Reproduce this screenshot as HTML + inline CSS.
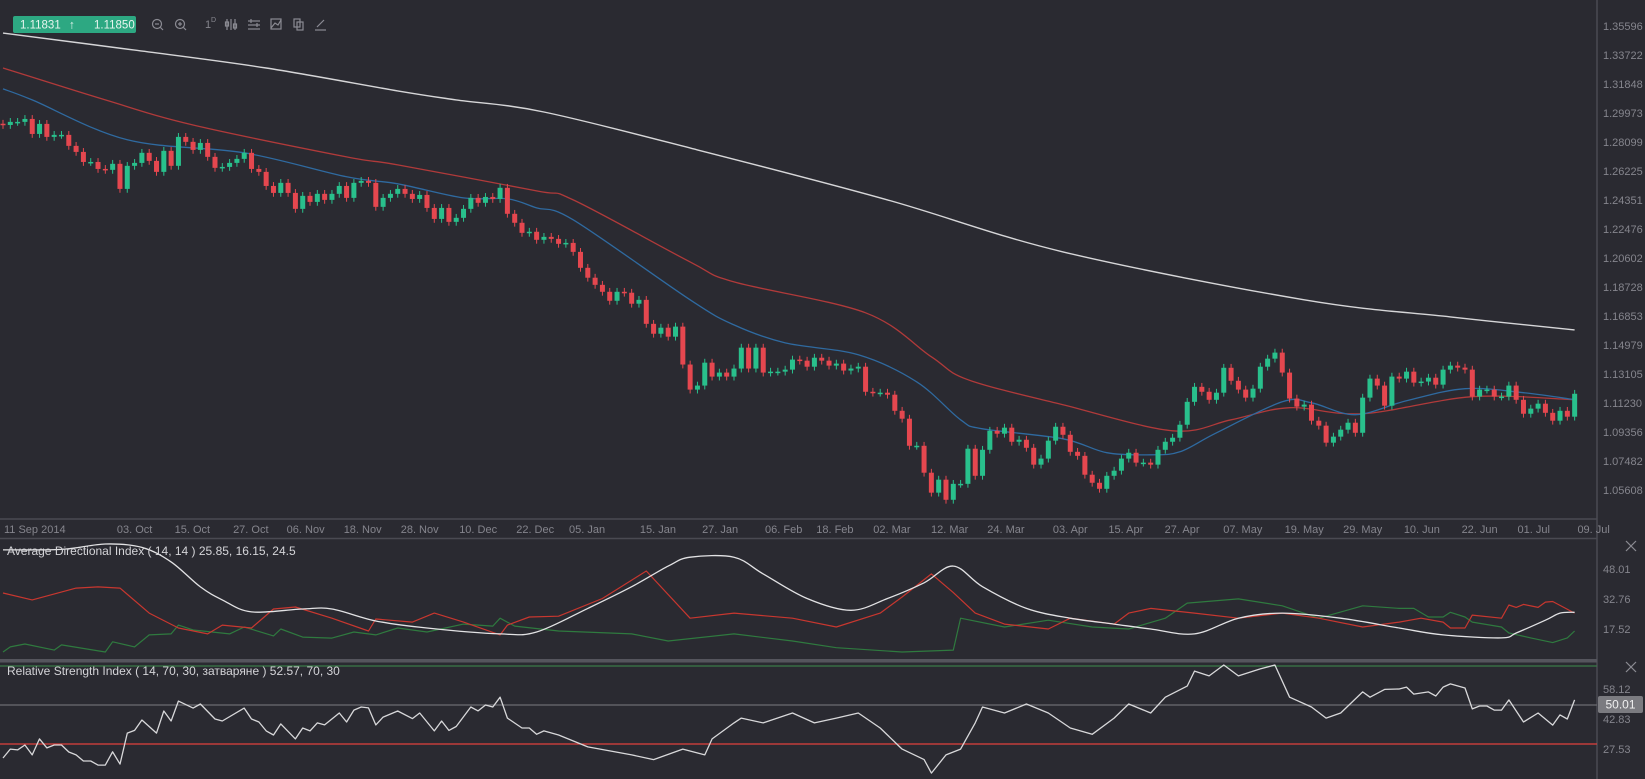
<!DOCTYPE html>
<html><head><meta charset="utf-8">
<style>
html,body{margin:0;padding:0;background:#2a2a31;}
body{width:1645px;height:779px;overflow:hidden;position:relative;font-family:"Liberation Sans",sans-serif;}
svg{position:absolute;left:0;top:0;}
.ax{font-family:"Liberation Sans",sans-serif;font-size:11px;fill:#85858d;}
.lbl{font-family:"Liberation Sans","Noto Sans CJK JP",sans-serif;font-size:12px;fill:#d4d4d8;}
</style></head>
<body>
<svg id="chart" width="1645" height="779" viewBox="0 0 1645 779">
  <rect x="0" y="0" width="1645" height="779" fill="#2a2a31"/>
  <defs>
    <clipPath id="cMain"><rect x="0" y="0" width="1597" height="519"/></clipPath>
    <clipPath id="cAdx"><rect x="0" y="539" width="1597" height="120"/></clipPath>
    <clipPath id="cRsi"><rect x="0" y="663" width="1597" height="116"/></clipPath>
  </defs>
  <line x1="1597" y1="0" x2="1597" y2="779" stroke="#4a4a52" stroke-width="1.5"/>
  <line x1="0" y1="519" x2="1597" y2="519" stroke="#4a4a52" stroke-width="1.5"/>
  <line x1="0" y1="538.5" x2="1597" y2="538.5" stroke="#4a4a52" stroke-width="1.5"/>
  <rect x="0" y="659" width="1597" height="3.5" fill="#55555d"/>
  <g id="gMain" clip-path="url(#cMain)"></g>
  <g id="gAdx" clip-path="url(#cAdx)"></g>
  <g id="gRsi" clip-path="url(#cRsi)"></g>
  <g id="gAxes"></g>

  <rect x="13" y="16" width="123" height="17" rx="2" fill="#2da882"/>
  <text x="20" y="28.5" font-size="11.5" fill="#e8f5ef" font-family="Liberation Sans, sans-serif">1.11831</text>
  <text x="69" y="28.5" font-size="12" fill="#e8f5ef" font-family="Liberation Sans, sans-serif">↑</text>
  <text x="94" y="28.5" font-size="11.5" fill="#e8f5ef" font-family="Liberation Sans, sans-serif">1.11850</text>

  <g stroke="#8b8b93" stroke-width="1.2" fill="none">
    <g><circle cx="157" cy="24" r="4.5"/><line x1="160.5" y1="27.5" x2="163" y2="30"/><line x1="155" y1="24" x2="159" y2="24"/></g>
    <g><circle cx="180" cy="24" r="4.5"/><line x1="183.5" y1="27.5" x2="186" y2="30"/><line x1="178" y1="24" x2="182" y2="24"/><line x1="180" y1="22" x2="180" y2="26"/></g>
    <g><line x1="227" y1="19" x2="227" y2="30"/><line x1="231" y1="19" x2="231" y2="30"/><line x1="235" y1="19" x2="235" y2="30"/><rect x="225.5" y="22" width="3" height="4"/><rect x="233.5" y="24" width="3" height="4"/></g>
    <g><line x1="248" y1="21" x2="260" y2="21"/><line x1="248" y1="25" x2="260" y2="25"/><line x1="248" y1="29" x2="260" y2="29"/><line x1="251" y1="19" x2="251" y2="23"/><line x1="257" y1="23" x2="257" y2="27"/></g>
    <g><rect x="271" y="19" width="10" height="10"/><polyline points="271,28 275,23 278,25 281,20"/></g>
    <g><rect x="294" y="19" width="6" height="8"/><rect x="297" y="22" width="6" height="8"/></g>
    <g><line x1="317" y1="27" x2="324" y2="20"/><line x1="315" y1="30" x2="326" y2="30"/></g>
  </g>
  <text x="205" y="28" class="ax" fill="#8b8b93">1</text>
  <text x="211" y="22" font-size="7" fill="#8b8b93" font-family="Liberation Sans, sans-serif">D</text>

  <text x="7" y="555" class="lbl">Average Directional Index ( 14, 14 ) 25.85, 16.15, 24.5</text>
  <text x="7" y="675" class="lbl">Relative Strength Index ( 14, 70, 30, затваряне ) 52.57, 70, 30</text>
  <g stroke="#8b8b93" stroke-width="1.2"><line x1="1626" y1="541" x2="1636" y2="551"/><line x1="1636" y1="541" x2="1626" y2="551"/></g>
  <g stroke="#8b8b93" stroke-width="1.2"><line x1="1626" y1="662" x2="1636" y2="672"/><line x1="1636" y1="662" x2="1626" y2="672"/></g>
  <rect x="1598" y="696" width="45" height="17" rx="2" fill="#7b7b80"/>
  <text x="1620.5" y="708.5" text-anchor="middle" font-size="12" fill="#f0f0f0" font-family="Liberation Sans, sans-serif">50.01</text>
</svg>
<script>
const closes = [
1.2920,1.2940,1.2940,1.2959,1.2862,1.2927,1.2843,1.2856,1.2856,1.2785,
1.2746,1.2681,1.2681,1.2636,1.2630,1.2669,1.2507,1.2656,1.2675,1.2740,
1.2688,1.2617,1.2753,1.2656,1.2843,1.2811,1.2759,1.2804,1.2714,1.2643,
1.2649,1.2675,1.2701,1.2740,1.2636,1.2617,1.2526,1.2481,1.2546,1.2481,
1.2378,1.2462,1.2423,1.2475,1.2436,1.2475,1.2526,1.2449,1.2546,1.2559,
1.2546,1.2391,1.2449,1.2475,1.2507,1.2475,1.2442,1.2468,1.2384,1.2313,
1.2384,1.2294,1.2320,1.2378,1.2449,1.2417,1.2455,1.2442,1.2514,1.2346,
1.2288,1.2223,1.2230,1.2178,1.2197,1.2184,1.2152,1.2158,1.2100,1.1997,
1.1933,1.1887,1.1842,1.1784,1.1842,1.1836,1.1765,1.1790,1.1635,1.1571,
1.1610,1.1552,1.1617,1.1372,1.1210,1.1236,1.1384,1.1294,1.1320,1.1294,
1.1346,1.1481,1.1346,1.1481,1.1320,1.1326,1.1326,1.1339,1.1404,1.1397,
1.1358,1.1416,1.1397,1.1365,1.1378,1.1333,1.1346,1.1358,1.1196,1.1190,
1.1190,1.1177,1.1073,1.1022,1.0847,1.0847,1.0673,1.0544,1.0628,1.0498,
1.0601,1.0601,1.0828,1.0653,1.0821,1.0944,1.0925,1.0964,1.0873,1.0886,
1.0834,1.0725,1.0764,1.0880,1.0970,1.0918,1.0808,1.0782,1.0660,1.0608,
1.0569,1.0653,1.0686,1.0764,1.0802,1.0738,1.0738,1.0725,1.0821,1.0873,
1.0899,1.0983,1.1131,1.1228,1.1196,1.1144,1.1190,1.1351,1.1267,1.1210,
1.1158,1.1216,1.1358,1.1410,1.1449,1.1320,1.1152,1.1100,1.1113,1.1009,
1.0977,1.0867,1.0906,1.0951,1.0996,1.0931,1.1158,1.1281,1.1236,1.1106,
1.1294,1.1281,1.1326,1.1255,1.1262,1.1287,1.1242,1.1339,1.1365,1.1352,
1.1339,1.1165,1.1210,1.1210,1.1165,1.1165,1.1236,1.1144,1.1054,1.1087,
1.1119,1.1060,1.1009,1.1073,1.1035,1.1183];
const firstOpen = 1.2928;

const ma200Idx = [0,18,36,54,62,74,95,121,145,178,198,215];
const ma200Val = [1.3514,1.3404,1.3288,1.3140,1.3082,1.3004,1.2759,1.2436,1.2100,1.1790,1.1680,1.1596];
const ma50Idx = [0,14,26,47,54,73,78,94,100,118,127,132,145,160,168,176,186,201,215];
const ma50Val = [1.3288,1.3082,1.2920,1.2714,1.2662,1.2494,1.2436,1.2035,1.1906,1.1706,1.1422,1.1274,1.1112,1.0944,1.1015,1.1093,1.1054,1.1164,1.1145];
const ma20Idx = [0,4,17,33,47,54,63,69,73,78,94,100,107,117,125,131,134,145,151,157,161,166,175,179,185,192,200,208,215];
const ma20Val = [1.3153,1.3082,1.2824,1.2740,1.2585,1.2540,1.2449,1.2443,1.2384,1.2307,1.1790,1.1628,1.1512,1.1435,1.1260,1.1015,1.0957,1.0892,1.0802,1.0789,1.0808,1.0931,1.1131,1.1125,1.1048,1.1138,1.1216,1.1190,1.1145];

const priceTicks = [1.35596,1.33722,1.31848,1.29973,1.28099,1.26225,1.24351,1.22476,1.20602,1.18728,1.16853,1.14979,1.13105,1.11230,1.09356,1.07482,1.05608];
const dateLabels = ["11 Sep 2014","03. Oct","15. Oct","27. Oct","06. Nov","18. Nov","28. Nov","10. Dec","22. Dec","05. Jan","15. Jan","27. Jan","06. Feb","18. Feb","02. Mar","12. Mar","24. Mar","03. Apr","15. Apr","27. Apr","07. May","19. May","29. May","10. Jun","22. Jun","01. Jul","09. Jul"];
const dateIdx = [0,18,25.9,33.9,41.4,49.2,57,65,72.8,79.9,89.6,98.1,106.8,113.8,121.6,129.5,137.2,146,153.6,161.3,169.6,178,186,194.1,202,209.4,217.6];

const adxIdx = [0,8,14,19,23,27,30,34,41,45,51,58,68,73,80,86,91,94,100,104,110,116,121,126,130,134,140,146,152,157,163,169,175,183,191,197,205,207,211,213,215];
const adxVal = [57.7,58,60.7,59,51.6,38.9,32.3,26.2,27.7,27.7,21.6,18,15,16,28,39,49.5,54,54,45.5,33,27,33,41,49.5,39,28,23,20,17.5,15,23,25.6,23,18,14.5,13,15.5,22,25.6,26];
const pdiIdx = [0,4,10,13,16,20,24,28,30,34,37,40,45,50,51,56,59,63,68,69,72,76,82,88,94,100,108,114,120,123,127,130,133,137,143,146,152,154,157,163,169,175,180,186,191,194,197,198,200,201,205,206,207,208,210,211,212,215];
const pdiVal = [35.8,32.3,38.3,38.9,38.3,25.6,18,15,19.5,18,27.7,28.7,23,16.5,22.6,21,25.6,21,14.5,19.5,23.6,24,33,47,23,25.6,23,18.5,25.6,33.8,45.5,36,25.6,20,17.5,23,20,25.6,28,25.6,23,25.6,23,18.5,21,23,21,18,18,24.6,23,29.7,28.5,30,28.5,31.2,31.5,25.6];
const mdiIdx = [0,1,3,7,8,14,15,18,20,23,24,26,31,33,37,38,41,45,48,51,54,58,63,67,68,70,76,86,91,100,108,114,123,130,131,137,143,149,154,159,162,169,175,180,186,191,193,195,197,198,200,201,205,206,209,212,214,215];
const mdiVal = [5.8,8.4,9.9,6.8,9.4,5.8,11,8.4,14.5,15,19.5,17,15,18.5,14,17.5,13.4,12.9,16,14.5,18,16,20,19,23,19,16.5,15,11.4,15,11.4,8,5.8,6.8,23,18.5,22,18.5,17.5,23,30.7,32.8,29.3,23,29.3,28,28,23.6,23.6,26,23.6,21,18.5,15.5,13,10.6,13,16.5];

const rsiIdx = [0,1,2,3,4,5,6,7,8,9,10,11,12,13,14,15,16,17,18,19,21,22,23,24,26,27,29,30,33,34,35,36,37,38,40,41,42,43,44,46,47,48,49,50,51,52,54,56,57,59,60,61,62,64,65,66,67,68,69,71,72,73,74,76,80,86,89,93,96,97,100,101,104,108,111,114,117,120,123,126,127,129,131,133,134,137,140,143,146,149,152,154,157,159,162,163,165,167,169,172,174,176,179,181,183,186,187,189,191,192,193,195,196,197,198,200,201,202,203,204,205,206,208,210,212,213,214,215];
const rsiVal = [22.8,27.4,27,29.5,24.4,32.6,28,29.5,29.5,25.9,24.4,21.3,21.3,19.2,19.2,26,19.7,35.6,37,42.3,35.6,46.9,41.8,52,48.4,50.5,42.8,41.8,48.4,42.8,41.3,36.7,34.6,40.3,32.6,38.2,36.7,40.8,39.8,45.9,41.3,47.4,49,48.5,39.8,43.8,46.9,43,45.9,36.7,41.8,37,39,49,47,50,49,54,43.3,38.2,38.2,35,36.7,34.6,28.5,24.4,22,27.4,24.4,32.6,40.8,43.3,40.8,45.9,40.8,43.3,45.9,38.2,27.4,22,15.1,24.4,27.4,40.8,49,45.9,50.5,45.9,38.2,35,43.3,50.5,45.9,54,59.7,67.4,64.9,70.5,64.9,68.5,70.5,54,49,43.3,45.9,56.7,54,58,58.2,59.2,55.6,56.7,54.6,59.2,60.8,58.7,48,49.5,49.5,47.4,47.4,52.6,41.3,45.9,39.7,44.9,42.8,52.6];

const adxTicks = [48.01,32.76,17.52];
const rsiTicks = [58.12,42.83,27.53];

const NS = "http://www.w3.org/2000/svg";
function xi(i){ return 3 + i*7.31; }
function py(p){ return 26 + (1.35596 - p)*1547.5; }
function ay(v){ return 599 - (v - 32.76)*1.967; }
function ry(v){ return 705 - (v - 50)*1.95; }
function mk(tag, attrs, parent){
  const el = document.createElementNS(NS, tag);
  for (const k in attrs) el.setAttribute(k, attrs[k]);
  parent.appendChild(el);
  return el;
}
const gMain = document.getElementById('gMain');
const gAdx = document.getElementById('gAdx');
const gRsi = document.getElementById('gRsi');
const gAxes = document.getElementById('gAxes');

function line(idx, vals, yf, color, width, parent, name){
  const pts = idx.map((d,k)=> xi(d).toFixed(1)+','+yf(vals[k]).toFixed(1)).join(' ');
  const pl = mk('polyline', {points:pts, fill:'none', stroke:color, 'stroke-width':width, 'stroke-linejoin':'round'}, parent);
  
  
}
// smooth (Catmull-Rom) rendering of a series
function smooth(idx, vals, yf, color, width, parent, name){
  const P = idx.map((d,k)=>[xi(d), yf(vals[k])]);
  let d = 'M'+P[0][0].toFixed(1)+','+P[0][1].toFixed(1);
  for (let k=0;k<P.length-1;k++){
    const p0=P[Math.max(0,k-1)], p1=P[k], p2=P[k+1], p3=P[Math.min(P.length-1,k+2)];
    const c1=[p1[0]+(p2[0]-p0[0])/6, p1[1]+(p2[1]-p0[1])/6];
    const c2=[p2[0]-(p3[0]-p1[0])/6, p2[1]-(p3[1]-p1[1])/6];
    d += ' C'+c1[0].toFixed(1)+','+c1[1].toFixed(1)+' '+c2[0].toFixed(1)+','+c2[1].toFixed(1)+' '+p2[0].toFixed(1)+','+p2[1].toFixed(1);
  }
  const pa = mk('path', {d:d, fill:'none', stroke:color, 'stroke-width':width}, parent);
  
  
}

smooth(ma200Idx, ma200Val, py, '#d6d6d8', 1.4, gMain, 'ma-200-line');
smooth(ma50Idx, ma50Val, py, '#b03a3a', 1.3, gMain, 'ma-50-line');
smooth(ma20Idx, ma20Val, py, '#2f6aa0', 1.3, gMain, 'ma-20-line');

const WICK = 0.0025;
for (let i=0;i<closes.length;i++){
  const o = i===0 ? firstOpen : closes[i-1];
  const c = closes[i];
  const up = c >= o;
  const col = up ? '#29c08c' : '#e5474f';
  const x = xi(i);
  const g = mk('g', {}, gMain);
  
  
  const hi = Math.max(o,c) + WICK, lo = Math.min(o,c) - WICK;
  const w = mk('line', {x1:x, x2:x, y1:py(hi), y2:py(lo), stroke:col, 'stroke-width':1}, g);
  
  
  const top = py(Math.max(o,c)), bot = py(Math.min(o,c));
  const b = mk('rect', {x:x-2.5, y:top, width:5, height:Math.max(1.5, bot-top), fill:col}, g);
  
  
}

line(mdiIdx, mdiVal, ay, '#2f7a3f', 1.2, gAdx, 'minus-di-line');
line(pdiIdx, pdiVal, ay, '#c8372f', 1.2, gAdx, 'plus-di-line');
smooth(adxIdx, adxVal, ay, '#e2e2e4', 1.3, gAdx, 'adx-line');

[[70,'#3b7a48','rsi-level-70'],[50,'#6c6c72','rsi-level-50'],[30,'#e0423c','rsi-level-30']].forEach(a=>{
  const l = mk('line', {x1:0, x2:1597, y1:ry(a[0]), y2:ry(a[0]), stroke:a[1], 'stroke-width':1.2}, gRsi);
  
  
});
line(rsiIdx, rsiVal, ry, '#d8d8da', 1.3, gRsi, 'rsi-line');

priceTicks.forEach(p=>{
  const t = mk('text', {x:1603, y:py(p)+4, class:'ax'}, gAxes);
  t.textContent = p.toFixed(5);
  
  
});
dateLabels.forEach((s,k)=>{
  const first = k===0;
  const t = mk('text', {x: first ? 4 : xi(dateIdx[k]), y:533, class:'ax', 'text-anchor': first ? 'start' : 'middle'}, gAxes);
  t.textContent = s;
  
  
});
adxTicks.forEach(v=>{
  const t = mk('text', {x:1603, y:ay(v)+4, class:'ax'}, gAxes);
  t.textContent = v.toFixed(2);
  
  
});
rsiTicks.forEach(v=>{
  const t = mk('text', {x:1603, y:ry(v)+4, class:'ax'}, gAxes);
  t.textContent = v.toFixed(2);
  
  
});
</script>
</body></html>
